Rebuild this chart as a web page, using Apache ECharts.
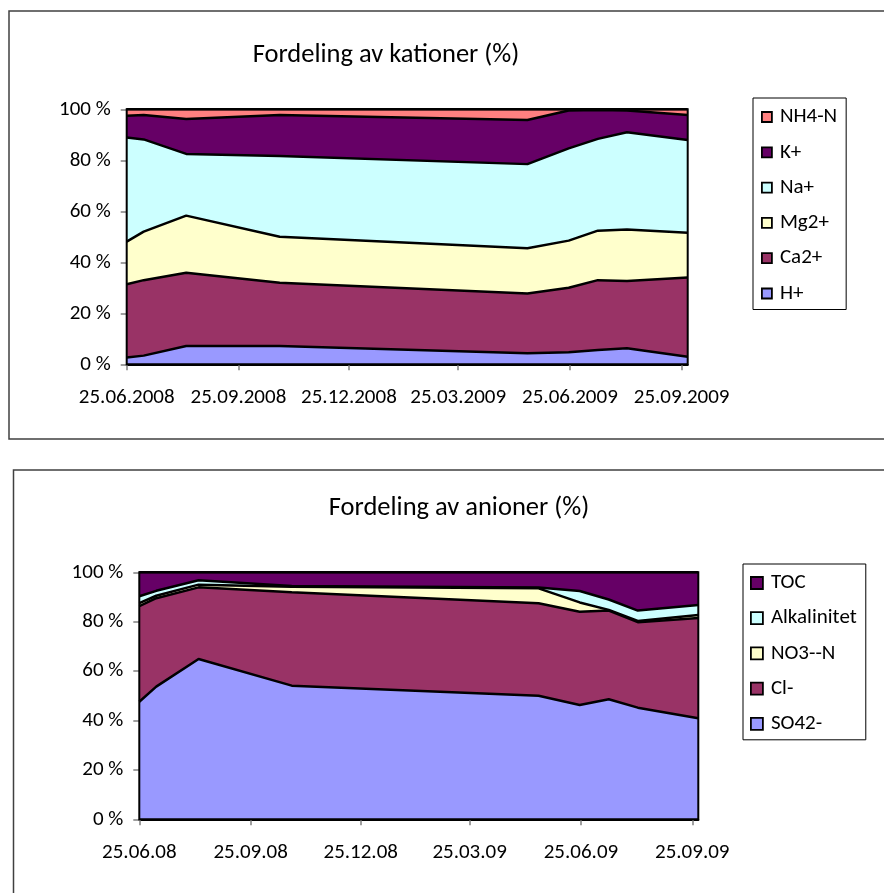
<!DOCTYPE html>
<html>
<head>
<meta charset="utf-8">
<title>Fordeling av kationer og anioner</title>
<script src="https://cdn.jsdelivr.net/npm/echarts@6.0.0/dist/echarts.min.js"></script>
<style>
  html, body { margin: 0; padding: 0; background: #fff; }
  #main { width: 884px; height: 893px; }
</style>
</head>
<body>
<div id="main"></div>
<script>
// sampling dates (same for both charts)
var sampleDates = ['25.06.2008', '09.07.2008', '13.08.2008', '29.10.2008', '21.05.2009',
                   '24.06.2009', '18.07.2009', '11.08.2009', '30.09.2009'];

// axis tick labels
var katTicks = ['25.06.2008', '25.09.2008', '25.12.2008', '25.03.2009', '25.06.2009', '25.09.2009'];
var anTicks = ['25.06.08', '25.09.08', '25.12.08', '25.03.09', '25.06.09', '25.09.09'];
var pctTicks = [0, 20, 40, 60, 80, 100];

// kationer (% av sum)
var hPlus  = [2.7, 3.4, 7.2, 7.2, 4.3, 4.7, 5.6, 6.3, 3.0];
var ca2    = [28.7, 29.6, 28.7, 24.8, 23.5, 25.3, 27.4, 26.4, 31.0];
var mg2    = [16.7, 19.0, 22.4, 18.0, 17.7, 18.5, 19.4, 20.2, 17.6];
var naPlus = [40.8, 36.2, 24.2, 31.7, 33.0, 36.2, 36.0, 38.1, 36.4];
var kPlus  = [8.6, 9.6, 13.7, 16.1, 17.3, 14.8, 11.3, 8.5, 9.8];
var nh4n   = [2.5, 2.2, 3.8, 2.2, 4.2, 0.5, 0.3, 0.5, 2.2];

// anioner (% av sum)
var so4 = [47.6, 53.7, 64.9, 54.1, 50.0, 46.3, 48.6, 45.2, 40.9];
var cl  = [38.7, 35.8, 29.0, 37.8, 37.5, 37.7, 35.9, 34.6, 40.6];
var no3 = [1.2, 1.0, 1.1, 2.3, 6.0, 3.8, 0.3, 0.5, 1.2];
var alk = [2.8, 2.0, 1.8, 0.3, 0.3, 4.6, 4.2, 4.2, 4.1];
var toc = [9.7, 7.5, 3.2, 5.5, 6.2, 7.6, 11.0, 15.5, 13.2];

var FONT = 'Carlito, Lato, sans-serif';

// dd.mm.yy(yy) -> timestamp (UTC)
function parseDate(s) {
    var p = s.split('.');
    var y = parseInt(p[2], 10);
    if (y < 100) y += 2000;
    return Date.UTC(y, parseInt(p[1], 10) - 1, parseInt(p[0], 10));
}

var times = sampleDates.map(parseDate);
var katTickTimes = katTicks.map(parseDate);
var anTickTimes = anTicks.map(parseDate);

function tickFormatter(tickTimes, labels) {
    return function (value) {
        var best = 0;
        for (var i = 1; i < tickTimes.length; i++) {
            if (Math.abs(tickTimes[i] - value) < Math.abs(tickTimes[best] - value)) best = i;
        }
        return labels[best];
    };
}

function areaSeries(name, values, color, axisIdx, stack, z) {
    return {
        name: name,
        type: 'line',
        xAxisIndex: axisIdx * 2,
        yAxisIndex: axisIdx,
        stack: stack,
        z: z,
        showSymbol: false,
        symbol: 'none',
        itemStyle: { color: color },
        lineStyle: { color: '#000', width: 2.5 },
        areaStyle: { color: color, opacity: 1 },
        emphasis: { disabled: true },
        data: values.map(function (v, i) { return [times[i], v]; })
    };
}

// time axis carries the data, value axis on top of it carries the quarter ticks
function xAxesFor(gridIdx, tickTimes, labels) {
    return [{
        type: 'time',
        gridIndex: gridIdx,
        position: 'bottom',
        min: times[0],
        max: times[times.length - 1],
        axisLine: { onZero: false, lineStyle: { color: '#000', width: 2 } },
        axisTick: { show: false },
        axisLabel: { show: false },
        splitLine: { show: false }
    }, {
        type: 'value',
        gridIndex: gridIdx,
        position: 'bottom',
        min: times[0],
        max: times[times.length - 1],
        axisLine: { show: false, onZero: false },
        axisTick: { show: true, customValues: tickTimes, length: 6, lineStyle: { color: '#808080', width: 1.5 } },
        axisLabel: {
            customValues: tickTimes,
            formatter: tickFormatter(tickTimes, labels),
            margin: 23,
            color: '#000',
            fontFamily: FONT,
            fontSize: 21,
            hideOverlap: false
        },
        splitLine: { show: false }
    }];
}

function yAxisFor(gridIdx) {
    return {
        type: 'value',
        gridIndex: gridIdx,
        min: pctTicks[0],
        max: pctTicks[pctTicks.length - 1],
        interval: pctTicks[1] - pctTicks[0],
        axisLine: { show: true, lineStyle: { color: '#000', width: 2 } },
        axisTick: { show: true, length: 6, lineStyle: { color: '#808080', width: 1.5 } },
        axisLabel: { formatter: '{value} %', margin: 16, color: '#000', fontFamily: FONT, fontSize: 21 },
        splitLine: { show: false }
    };
}

function legendFor(names, colors, left, top, pad, iconSize, gap) {
    return {
        orient: 'vertical',
        left: left,
        top: top,
        padding: pad,
        itemGap: gap,
        itemWidth: iconSize,
        itemHeight: iconSize,
        icon: 'rect',
        borderColor: '#000',
        borderWidth: 1,
        backgroundColor: '#fff',
        selectedMode: false,
        itemStyle: { borderColor: '#000', borderWidth: 1.8 },
        textStyle: { color: '#000', fontFamily: FONT, fontSize: 21, lineHeight: 22, padding: [0, 0, 0, 3] },
        data: names.map(function (n, i) { return { name: n, itemStyle: { color: colors[i] } }; })
    };
}

var chart = echarts.init(document.getElementById('main'), null, { renderer: 'canvas' });

var option = {
    backgroundColor: '#fff',
    animation: false,
    // frames round each chart
    graphic: [
        { type: 'rect', shape: { x: 9, y: 11, width: 900, height: 428 }, style: { fill: 'none', stroke: '#404040', lineWidth: 1.5 }, silent: true },
        { type: 'rect', shape: { x: 13.5, y: 470, width: 900, height: 500 }, style: { fill: 'none', stroke: '#404040', lineWidth: 1.5 }, silent: true }
    ],
    title: [
        { text: 'Fordeling av kationer (%)', left: 381, top: 35, textAlign: 'center',
          textStyle: { fontFamily: FONT, fontSize: 26.5, fontWeight: 'normal', color: '#000', lineHeight: 30 } },
        { text: 'Fordeling av anioner (%)', left: 454, top: 488, textAlign: 'center',
          textStyle: { fontFamily: FONT, fontSize: 26.5, fontWeight: 'normal', color: '#000', lineHeight: 30 } }
    ],
    legend: [
        legendFor(['NH4-N', 'K+', 'Na+', 'Mg2+', 'Ca2+', 'H+'],
                  ['#FF8080', '#660066', '#CCFFFF', '#FFFFCC', '#993366', '#9999FF'],
                  753, 98, [8, 9, 5, 8], 10, 13.3),
        legendFor(['TOC', 'Alkalinitet', 'NO3--N', 'Cl-', 'SO42-'],
                  ['#660066', '#CCFFFF', '#FFFFCC', '#993366', '#9999FF'],
                  743, 564, [8, 9, 5, 7], 12, 13.2)
    ],
    grid: [
        { left: 126.7, top: 109.3, width: 561, height: 255, show: true, z: 10,
          backgroundColor: 'transparent', borderColor: '#000', borderWidth: 2 },
        { left: 139.3, top: 572.3, width: 559, height: 247, show: true, z: 10,
          backgroundColor: 'transparent', borderColor: '#000', borderWidth: 2 }
    ],
    xAxis: xAxesFor(0, katTickTimes, katTicks).concat(xAxesFor(1, anTickTimes, anTicks)),
    yAxis: [yAxisFor(0), yAxisFor(1)],
    series: [
        areaSeries('H+', hPlus, '#9999FF', 0, 'kat', 8),
        areaSeries('Ca2+', ca2, '#993366', 0, 'kat', 7),
        areaSeries('Mg2+', mg2, '#FFFFCC', 0, 'kat', 6),
        areaSeries('Na+', naPlus, '#CCFFFF', 0, 'kat', 5),
        areaSeries('K+', kPlus, '#660066', 0, 'kat', 4),
        areaSeries('NH4-N', nh4n, '#FF8080', 0, 'kat', 3),

        areaSeries('SO42-', so4, '#9999FF', 1, 'an', 8),
        areaSeries('Cl-', cl, '#993366', 1, 'an', 7),
        areaSeries('NO3--N', no3, '#FFFFCC', 1, 'an', 6),
        areaSeries('Alkalinitet', alk, '#CCFFFF', 1, 'an', 5),
        areaSeries('TOC', toc, '#660066', 1, 'an', 4)
    ]
};

chart.setOption(option);

window.onresize = function () {
    chart.resize();
};
</script>
</body>
</html>
